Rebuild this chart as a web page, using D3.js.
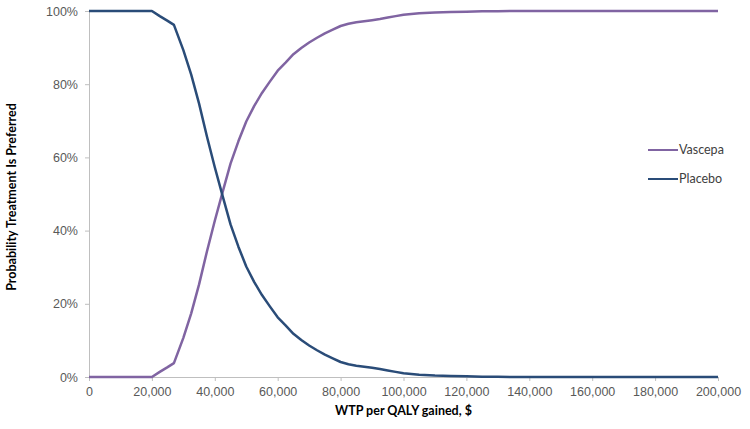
<!DOCTYPE html>
<html>
<head>
<meta charset="utf-8">
<script src="https://cdn.jsdelivr.net/npm/d3@7"></script>
<style>
  body { margin: 0; background: #fff; }
  svg { display: block; font-family: Lato, "Open Sans", sans-serif; }
  .tick text { fill: #595959; font-size: 12.5px; }
  .domain, .tick line { stroke: #bfbfbf; }
</style>
</head>
<body>
<svg id="chart" width="750" height="429"></svg>
<script>
// WTP thresholds ($) and probability each strategy is preferred (%)
const wtp = [0, 20000, 22500, 25000, 27000, 30000, 32500, 35000, 37500, 40000, 42500, 45000, 47500, 50000,
  52500, 55000, 57500, 60000, 62500, 65000, 67500, 70000, 72500, 75000, 77500, 80000, 82500, 85000, 87500,
  90000, 92500, 95000, 97500, 100000, 105000, 110000, 115000, 120000, 125000, 130000, 140000, 200000];
const placebo = [100, 100, 98.6, 97.3, 96.2, 89.3, 82.6, 74.7, 65.7, 57.3, 49.4, 41.7, 35.6, 30.2,
  26.0, 22.4, 19.3, 16.3, 14.1, 11.8, 10.1, 8.6, 7.3, 6.1, 5.1, 4.1, 3.5, 3.1, 2.8,
  2.5, 2.2, 1.8, 1.4, 1.0, 0.6, 0.4, 0.3, 0.2, 0.1, 0.05, 0, 0];
const vascepa = [0, 0, 1.4, 2.7, 3.8, 10.7, 17.4, 25.3, 34.3, 42.7, 50.6, 58.3, 64.4, 69.8,
  74.0, 77.6, 80.7, 83.7, 85.9, 88.2, 89.9, 91.4, 92.7, 93.9, 94.9, 95.9, 96.5, 96.9, 97.2,
  97.5, 97.8, 98.2, 98.6, 99.0, 99.4, 99.6, 99.7, 99.8, 99.9, 99.95, 100, 100];
const seriesNames = ["Vascepa", "Placebo"];
const seriesColors = ["#8064a2", "#2a4c78"];
const xTicks = [0, 20000, 40000, 60000, 80000, 100000, 120000, 140000, 160000, 180000, 200000];
const yTicks = [0, 20, 40, 60, 80, 100];

const svg = d3.select("#chart");
const x = d3.scaleLinear().domain([0, 200000]).range([89, 718]);
const y = d3.scaleLinear().domain([0, 100]).range([377, 11]);

// axes
svg.append("g")
  .attr("transform", `translate(0,${y(0)})`)
  .call(d3.axisBottom(x).tickValues(xTicks).tickFormat(d3.format(",")).tickSizeOuter(0).tickSize(4).tickPadding(6));
svg.append("g")
  .attr("transform", `translate(${x(0)},0)`)
  .call(d3.axisLeft(y).tickValues(yTicks).tickFormat(d => d + "%").tickSizeOuter(0).tickSize(4).tickPadding(7));

// axis titles
svg.append("text")
  .attr("x", (x(0) + x(200000)) / 2).attr("y", 415)
  .attr("text-anchor", "middle").attr("font-size", 12.5).attr("font-weight", "bold").attr("fill", "#000")
  .text("WTP per QALY gained, $");
svg.append("text")
  .attr("transform", `translate(16,${(y(0) + y(100)) / 2 + 3}) rotate(-90)`)
  .attr("text-anchor", "middle").attr("font-size", 12.5).attr("font-weight", "bold").attr("fill", "#000")
  .text("Probability Treatment Is Preferred");

// lines
const line = d3.line().x((d, i) => x(wtp[i])).y(d => y(d));
[vascepa, placebo].forEach((vals, i) => {
  svg.append("path")
    .attr("d", line(vals))
    .attr("fill", "none")
    .attr("stroke", seriesColors[i])
    .attr("stroke-width", 2.5)
    .attr("stroke-linejoin", "round");
});

// legend
const lg = svg.append("g").attr("transform", "translate(648,150)");
seriesNames.forEach((name, i) => {
  const g = lg.append("g").attr("transform", `translate(0,${i * 29})`);
  g.append("line").attr("x1", 0).attr("x2", 30).attr("stroke", seriesColors[i]).attr("stroke-width", 2);
  g.append("text").attr("x", 31).attr("dy", "0.35em").attr("font-size", 12.5).attr("fill", "#404040").text(name);
});
</script>
</body>
</html>
